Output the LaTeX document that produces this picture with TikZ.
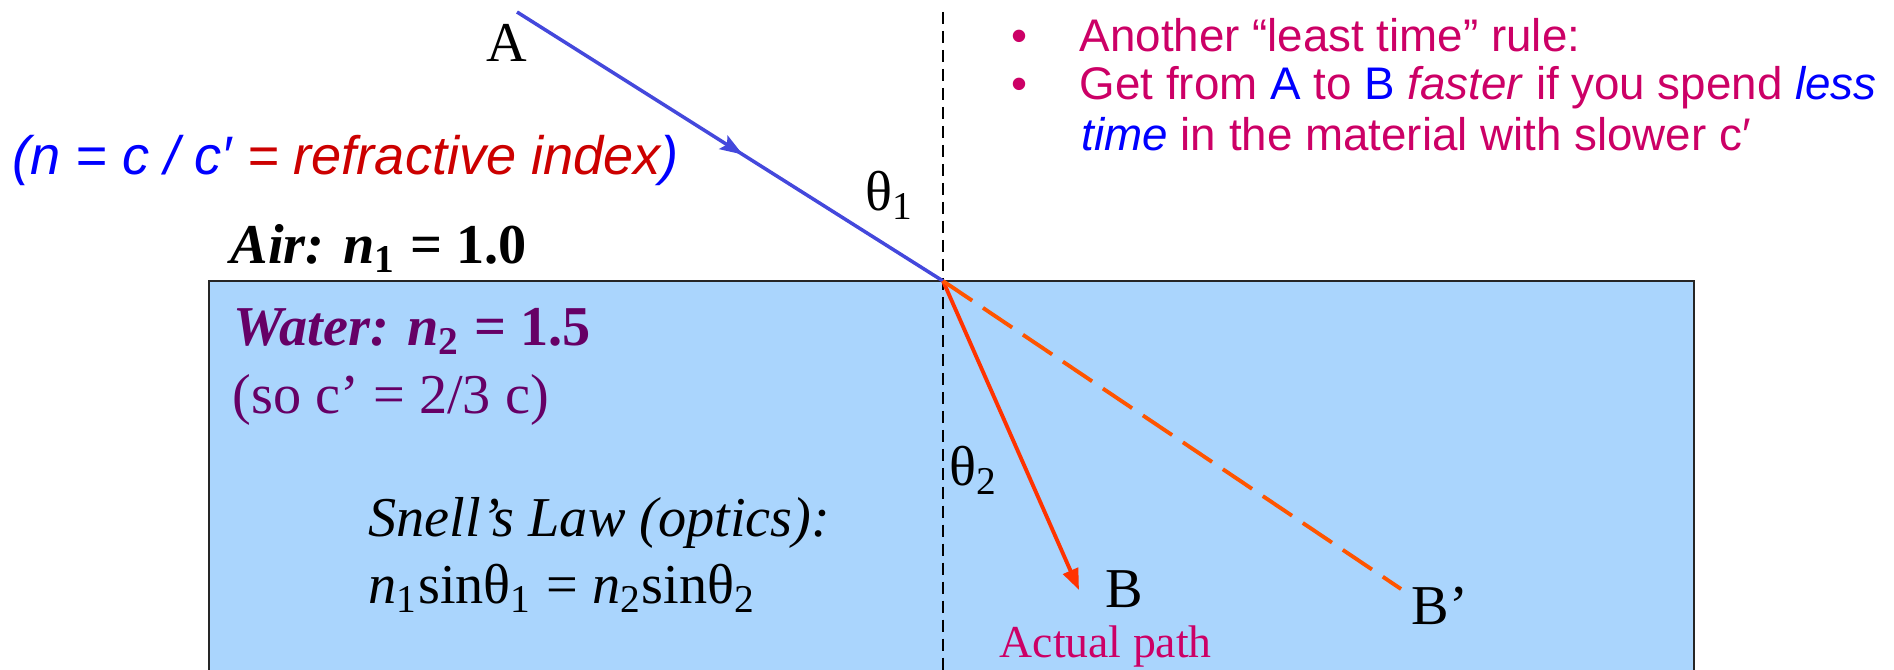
\documentclass[tikz,border=0pt]{standalone}
\usepackage{fontspec}
\setmainfont{Liberation Serif}
\newfontfamily\slidesans{Liberation Sans}
\usetikzlibrary{arrows.meta,decorations.markings}
\definecolor{SnellRay}{HTML}{4448DC}
\definecolor{SnellRed}{HTML}{FF3300}
\definecolor{SnellOrange}{HTML}{FF5500}
\definecolor{SnellWater}{HTML}{AAD5FD}
\definecolor{SnellPurple}{HTML}{660066}
\definecolor{SnellMagenta}{HTML}{CC0066}
\definecolor{SnellBlue}{HTML}{0000FF}
\definecolor{SnellDarkRed}{HTML}{CC0000}

\begin{document}
\begin{tikzpicture}[x=0.01cm, y=-0.01cm, >=Stealth,
    every node/.style={inner sep=0pt},
    serif/.style={font=\fontsize{16}{19}\selectfont},
    small serif/.style={font=\fontsize{13}{15}\selectfont},
    slide/.style={font=\slidesans\fontsize{13}{15}\selectfont, SnellMagenta}]
    \useasboundingbox (0,0) rectangle (1894,670);
    \clip (0,0) rectangle (1894,670);

    % ========== Water block ==========
    \fill[SnellWater] (209,281) rectangle (1694,700);
    \draw[line width=0.6pt, black!85] (209,700) -- (209,281) -- (1694,281) -- (1694,700);

    % Normal to the surface
    \coordinate (top) at (943,12);
    \coordinate (O) at (943,281);
    \coordinate (bottom) at (943,690);
    \draw[line width=0.6pt, dash pattern=on 3.4pt off 2pt] (top) -- (bottom);

    % ========== Rays ==========
    \coordinate (src) at (517,12);
    \coordinate (tipB) at (1079,590);
    \coordinate (endBp) at (1401,589);
    \draw[SnellRay, line width=1pt, postaction={decorate},
        decoration={markings, mark=at position 0.53 with {\arrow{Stealth[length=6.5pt,width=4.5pt,inset=1.2pt]}}}]
        (src) -- (O);
    \draw[-{Triangle[length=6pt,width=4.5pt]}, SnellRed, line width=1.1pt] (O) -- (tipB);
    \draw[SnellOrange, line width=1.1pt, dash pattern=on 10pt off 3.7pt] (O) -- (endBp);

    % Point labels
    \node[serif, anchor=base] (A) at (507,62) {A};
    \node[serif, anchor=base] (B) at (1124,607) {B};
    \node[serif, anchor=base west] (Bp) at (1411,624) {B’};
    \node[small serif, anchor=base west, SnellMagenta] (actual) at (999,657) {Actual path};

    % Angles
    \node[serif, anchor=base west] (th1) at (865,210) {θ\textsubscript{1}};
    \node[serif, anchor=base west] (th2) at (949,485) {θ\textsubscript{2}};

    % ========== Left side text ==========
    \node[anchor=base west, font=\slidesans\itshape\fontsize{15.4}{18}\selectfont] (index) at (12,175)
        {{\color{SnellBlue}(n = c / c′} {\color{SnellDarkRed}= refractive index}{\color{SnellBlue})}};
    \node[serif, anchor=base west] (air) at (230,263)
        {\textbf{\textit{Air: n}\textsubscript{1} = 1.0}};
    \node[serif, anchor=base west, SnellPurple] (water) at (233,345)
        {\textbf{\textit{Water: n}\textsubscript{2} = 1.5}};
    \node[serif, anchor=base west, SnellPurple] (slow) at (232,413) {(so c’ = 2/3 c)};
    \node[serif, anchor=base west] (snell) at (368,536) {\textit{Snell’s Law (optics):}};
    \node[serif, anchor=base west] (law) at (368,603)
        {\textit{n}\textsubscript{1}sinθ\textsubscript{1} = \textit{n}\textsubscript{2}sinθ\textsubscript{2}};

    % ========== Bullets (right side) ==========
    \node[slide, anchor=base] (dot1) at (1019,52) {•};
    \node[slide, anchor=base west] (rule) at (1079,52) {Another “least time” rule:};
    \node[slide, anchor=base] (dot2) at (1019,100) {•};
    \node[slide, anchor=base west] (fast) at (1079,100)
        {Get from {\color{SnellBlue}A} to {\color{SnellBlue}B} \textit{faster} if you spend {\color{SnellBlue}\textit{less}}};
    \node[slide, anchor=base west] (less) at (1081,150)
        {{\color{SnellBlue}\textit{time}} in the material with slower c′};

\end{tikzpicture}
\end{document}
